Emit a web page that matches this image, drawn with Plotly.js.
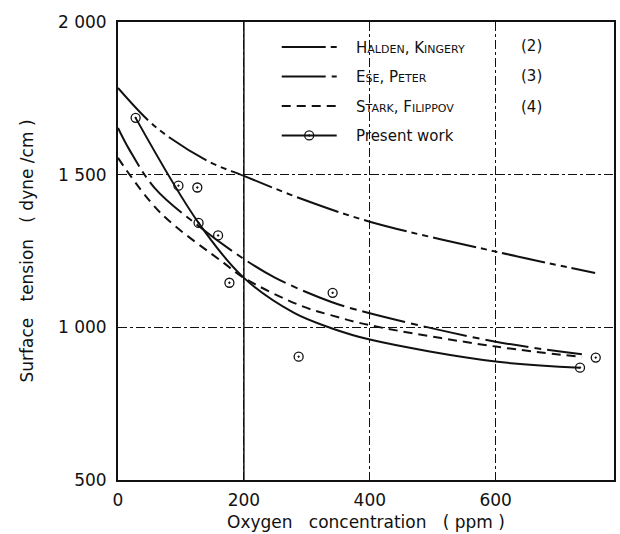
<!DOCTYPE html>
<html>
<head>
<meta charset="utf-8">
<script src="https://cdn.plot.ly/plotly-3.0.1.min.js"></script>
<style>html,body{margin:0;padding:0;background:#fff;} #chart{width:620px;height:534px;}</style>
</head>
<body>
<div id="chart"></div>
<script>
// Halden, Kingery (2)
const haldenX = [0, 47, 83, 147, 200, 290, 400, 600, 758];
const haldenY = [1784, 1680, 1620, 1540, 1496, 1422, 1346, 1248, 1178];
// Ese, Peter (3)
const eseX = [0, 18, 58, 129, 197, 250, 338, 400, 600, 737];
const eseY = [1653, 1582, 1457, 1330, 1228, 1162, 1084, 1046, 953, 912];
// Stark, Filippov (4)
const starkX = [0, 67, 168, 200, 289, 338, 400, 600, 737];
const starkY = [1555, 1376, 1211, 1162, 1072, 1040, 1007, 937, 903];
// Present work: fitted curve and measured points
const presentLineX = [28, 128, 200, 279, 338, 400, 600, 734];
const presentLineY = [1686, 1342, 1162, 1048, 998, 960, 888, 868];
const presentPtsX = [28, 96, 126, 128, 159, 177, 287, 341, 734, 759];
const presentPtsY = [1686, 1464, 1458, 1342, 1301, 1146, 904, 1113, 868, 901];

const xTicks = [0, 200, 400, 600];
const yTicks = [500, 1000, 1500, 2000];
const yTickText = ['500', '1\u00A0000', '1\u00A0500', '2\u00A0000'];
const solidGridX = [200];
const refNumbers = ['(2)', '(3)', '(4)'];

const sc = s => `<span style="font-size:11px">${s}</span>`;
const pad = '\u00A0\u00A0\u00A0';
const names = [
  pad + 'H' + sc('ALDEN') + ', K' + sc('INGERY'),
  pad + 'E' + sc('SE') + ', P' + sc('ETER'),
  pad + 'S' + sc('TARK') + ', F' + sc('ILIPPOV'),
  pad + 'Present work'
];

const black = '#111';
const traces = [
  {x: haldenX, y: haldenY, mode: 'lines', name: names[0], legendgroup: 'a',
   line: {color: black, width: 2, shape: 'spline', dash: '44px,5px,6px,5px,6px,5px'}},
  {x: eseX, y: eseY, mode: 'lines', name: names[1], legendgroup: 'b',
   line: {color: black, width: 2, shape: 'spline', dash: '44px,6px,7px,6px'}},
  {x: starkX, y: starkY, mode: 'lines', name: names[2], legendgroup: 'c',
   line: {color: black, width: 2, shape: 'spline', dash: '9px,6px'}},
  {x: presentLineX, y: presentLineY, mode: 'lines', showlegend: false, legendgroup: 'd',
   line: {color: black, width: 2, shape: 'spline'}},
  {x: presentPtsX, y: presentPtsY, mode: 'markers', showlegend: false, legendgroup: 'd',
   marker: {symbol: 'circle-open-dot', size: 9, color: black, line: {width: 1.3, color: black}}},
  {x: [null], y: [null], mode: 'lines+markers', name: names[3], legendgroup: 'd',
   line: {color: black, width: 2},
   marker: {symbol: 'circle-open-dot', size: 9, color: black, line: {width: 1.3, color: black}}}
];

const rowY = [0.9476, 0.882, 0.8144];
const annotations = refNumbers.map((t, i) => ({
  text: t, xref: 'paper', yref: 'paper', x: 0.809, y: rowY[i],
  xanchor: 'left', yanchor: 'middle', showarrow: false,
  font: {family: 'DejaVu Sans', size: 15, color: black}
}));

const shapes = solidGridX.map(v => ({
  type: 'line', xref: 'x', yref: 'paper', x0: v, x1: v, y0: 0, y1: 1,
  line: {color: black, width: 1.5}
}));

const layout = {
  width: 620, height: 534,
  margin: {l: 118, r: 6, t: 22, b: 54},
  paper_bgcolor: '#fff', plot_bgcolor: '#fff',
  font: {family: 'DejaVu Sans', color: black},
  showlegend: true,
  legend: {x: 0.32, y: 0.981, xanchor: 'left', yanchor: 'top',
           bgcolor: 'rgba(255,255,255,0)', borderwidth: 0,
           font: {family: 'DejaVu Sans', size: 15, color: black},
           itemwidth: 55, tracegroupgap: 7, traceorder: 'grouped'},
  xaxis: {range: [0, 788], tickvals: xTicks, ticks: '', showline: true, mirror: true,
          linecolor: black, linewidth: 2, showgrid: true, gridcolor: black, gridwidth: 1,
          griddash: 'dashdot', zeroline: false, ticklabelstandoff: 4,
          tickfont: {family: 'DejaVu Sans', size: 17, color: black},
          title: {text: 'Oxygen\u00A0\u00A0 concentration\u00A0\u00A0 (\u00A0ppm\u00A0)', standoff: 7,
                  font: {family: 'DejaVu Sans', size: 17, color: black}}},
  yaxis: {range: [500, 2000], tickvals: yTicks, ticktext: yTickText, ticks: '',
          showline: true, mirror: true, linecolor: black, linewidth: 2,
          showgrid: true, gridcolor: black, gridwidth: 1, griddash: 'dashdot', zeroline: false,
          ticklabelstandoff: 6,
          tickfont: {family: 'DejaVu Sans', size: 17, color: black},
          title: {text: 'Surface\u00A0\u00A0 tension\u00A0\u00A0 (\u00A0dyne\u00A0/cm\u00A0)', standoff: 20,
                  font: {family: 'DejaVu Sans', size: 17, color: black}}},
  annotations: annotations,
  shapes: shapes
};

Plotly.newPlot('chart', traces, layout, {staticPlot: true, displayModeBar: false});
</script>
</body>
</html>
